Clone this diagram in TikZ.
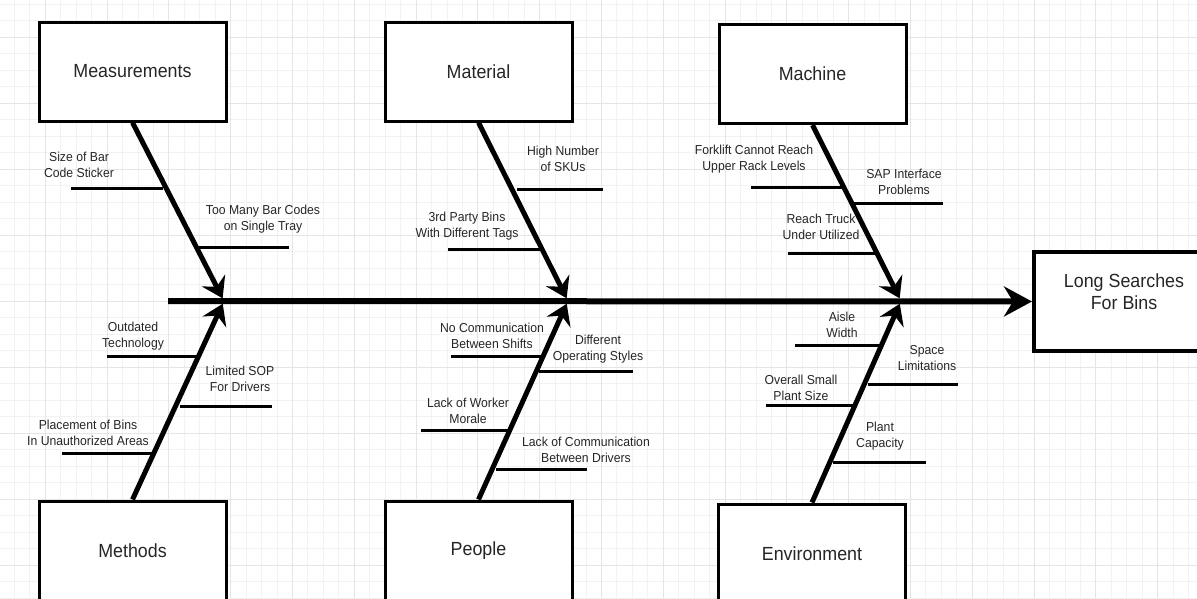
\documentclass[tikz,border=0pt]{standalone}
\usepackage{fontspec}
\setmainfont{Liberation Sans}[FakeStretch=0.94]
\usetikzlibrary{arrows.meta}

\begin{document}
\begin{tikzpicture}[x=1pt,y=-1pt,
  box/.style={draw,line width=3pt,fill=white,minimum width=187pt,minimum height=99pt,
    font=\fontsize{19}{22}\selectfont,text=black!85,align=center},
  bone/.style={line width=5pt,shorten >=3pt,-{Stealth[length=20pt,width=26pt,inset=7pt]}},
  twig/.style={line width=3pt},
  lbl/.style={font=\fontsize{13}{16}\selectfont,text=black!85,align=center,inner sep=0pt}]
  \useasboundingbox (0,0) rectangle (1197,598);
  \clip (0,0) rectangle (1197,598);
  \fill[white] (0,0) rectangle (1197,598);
  % grid
  \foreach \k in {-2,...,80} \draw[black!5,line width=0.8pt] ({-16.6+15.45*\k},0) -- ++(0,598);
  \foreach \k in {-3,...,36} \draw[black!5,line width=0.8pt] (0,{37+16.5*\k}) -- ++(1197,0);
  \foreach \k in {0,...,20} \draw[black!10,line width=0.9pt] ({-16.6+61.8*\k},0) -- ++(0,598);
  \foreach \k in {-1,...,9} \draw[black!10,line width=0.9pt] (0,{37+66*\k}) -- ++(1197,0);

  \node[box] (meas) at (132.5,71.5) {Measurements};
  \node[box] (mat) at (478.5,71.5) {Material};
  \node[box] (mach) at (812.5,74) {Machine};
  \node[box] (meth) at (132.5,550.5) {Methods};
  \node[box] (peop) at (478.5,550.5) {People};
  \node[box] (env) at (812,553.5) {Environment};
  \node[box,line width=4pt] (effect) at (1127.5,301.5) {};
  \node[lbl,font=\fontsize{19}{22}\selectfont] (effecttext) at (1124,292) {Long Searches\\For Bins};

  \coordinate (tail) at (168,301);
  \coordinate (j1) at (224,301);
  \coordinate (j2) at (568,301);
  \coordinate (j3) at (901,301);

  \draw[line width=6pt,-{Stealth[length=28pt,width=30pt,inset=9pt]}] (tail) -- (effect.west);
  \draw[bone] (meas.south) -- (j1);
  \draw[bone] (mat.south) -- (j2);
  \draw[bone] (mach.south) -- (j3);
  \draw[bone] (meth.north) -- (j1);
  \draw[bone] (peop.north) -- (j2);
  \draw[bone] (env.north) -- (j3);

  % measurements
  \draw[twig] (71,188) -- (163,188);
  \node[lbl] (m1) at (79,164.5) {Size of Bar\\Code Sticker};
  \draw[twig] (199,247) -- (289,247);
  \node[lbl] (m2) at (263,219) {Too Many Bar Codes\\on Single Tray};
  % material
  \draw[twig] (517,189) -- (603,189);
  \node[lbl] (t1) at (563,159) {High Number\\of SKUs};
  \draw[twig] (448,249) -- (540,249);
  \node[lbl] (t2) at (467,226.5) {3rd Party Bins\\With Different Tags};
  % machine
  \draw[twig] (751,187) -- (842,187);
  \node[lbl] (c1) at (754,159) {Forklift Cannot Reach\\Upper Rack Levels};
  \draw[twig] (853,203) -- (943,203);
  \node[lbl] (c2) at (904,181.5) {SAP Interface\\Problems};
  \draw[twig] (788,253) -- (875,253);
  \node[lbl] (c3) at (821,226.5) {Reach Truck\\Under Utilized};
  % methods
  \draw[twig] (107,356) -- (198,356);
  \node[lbl] (d1) at (133,336) {Outdated\\Technology};
  \draw[twig] (180,406) -- (272,406);
  \node[lbl] (d2) at (240,379) {Limited SOP\\For Drivers};
  \draw[twig] (62,453) -- (153,453);
  \node[lbl] (d3) at (88,433) {Placement of Bins\\In Unauthorized Areas};
  % people
  \draw[twig] (451,356) -- (543,356);
  \node[lbl] (p1) at (492,336) {No Communication\\Between Shifts};
  \draw[twig] (539,371) -- (633,371);
  \node[lbl] (p2) at (598,349) {Different\\Operating Styles};
  \draw[twig] (421,430) -- (509,430);
  \node[lbl] (p3) at (468,411) {Lack of Worker\\Morale};
  \draw[twig] (496,469) -- (587,469);
  \node[lbl] (p4) at (586,449.5) {Lack of Communication\\Between Drivers};
  % environment
  \draw[twig] (795,345) -- (883,345);
  \node[lbl] (e1) at (842,324.5) {Aisle\\Width};
  \draw[twig] (868,384) -- (958,384);
  \node[lbl] (e2) at (927,358) {Space\\Limitations};
  \draw[twig] (766,405) -- (856,405);
  \node[lbl] (e3) at (801,388) {Overall Small\\Plant Size};
  \draw[twig] (833,462) -- (926,462);
  \node[lbl] (e4) at (880,436.5) {Plant\\Capacity};
\end{tikzpicture}
\end{document}
